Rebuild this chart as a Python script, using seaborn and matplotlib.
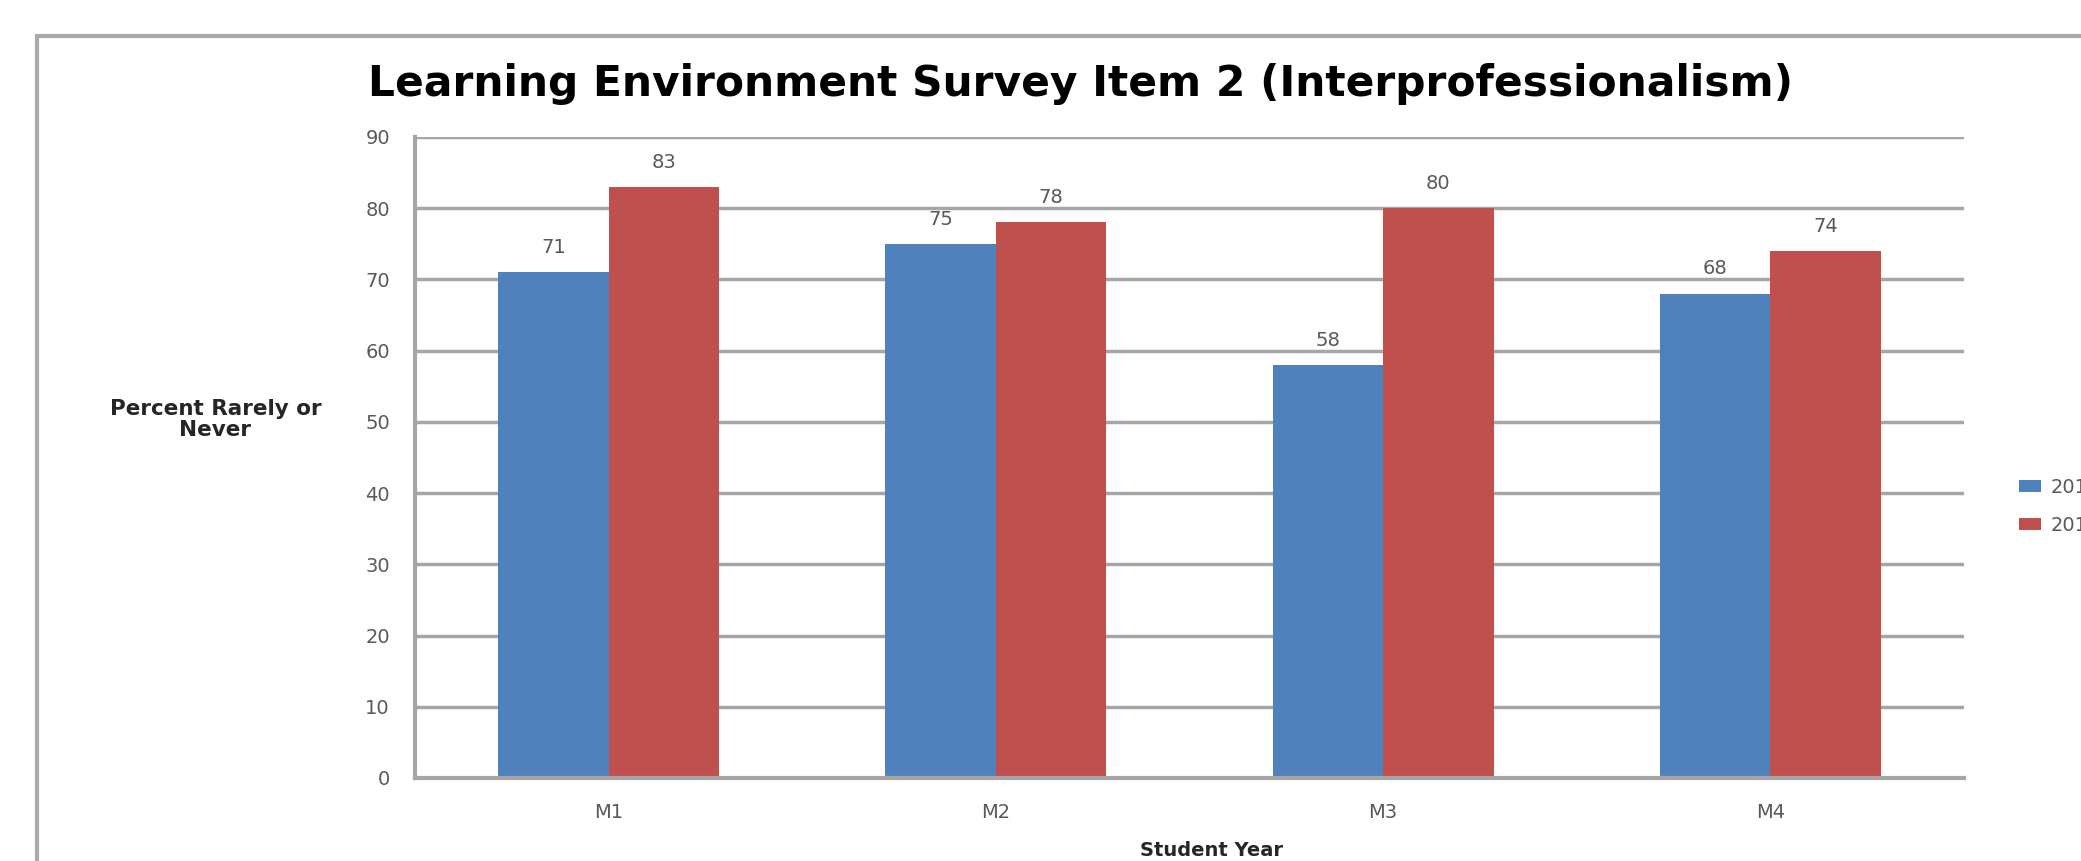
import pandas as pd
import matplotlib.pyplot as plt
import seaborn as sns
from matplotlib.patches import Rectangle, Patch

# Dados do gráfico
student_years = ["M1", "M2", "M3", "M4"]
series_names = ["2010", "2011"]
values_first = [71, 75, 58, 68]
values_second = [83, 78, 80, 74]
y_ticks = [0, 10, 20, 30, 40, 50, 60, 70, 80, 90]

df = pd.DataFrame({
    "Student Year": student_years * 2,
    "Year": [series_names[0]] * 4 + [series_names[1]] * 4,
    "Percent": values_first + values_second,
})

sns.set_style("white")
plt.rcParams['font.family'] = ['DejaVu Sans']

blue = "#4F81BD"
red = "#C0504D"
grey = "#A6A6A6"
tick_col = "#595959"

fig = plt.figure(figsize=(20.81, 8.61), dpi=100)
ax = fig.add_axes([0.1994, 0.0964, 0.7444, 0.7445])

sns.barplot(data=df, x="Student Year", y="Percent", hue="Year",
            palette=[blue, red], width=0.57, ax=ax, legend=False,
            saturation=1, edgecolor="none")

ax.set_xlim(-0.5, 3.5)
ax.set_ylim(0, 90)
ax.set_yticks(y_ticks)
ax.yaxis.grid(True, color=grey, linewidth=2.5)
ax.set_axisbelow(True)

for s in ["top", "right"]:
    ax.spines[s].set_visible(False)
for s in ["left", "bottom"]:
    ax.spines[s].set_color(grey)
    ax.spines[s].set_linewidth(3)

ax.set_xticks([0.5, 1.5, 2.5, 3.5], minor=True)
ax.tick_params(axis="x", which="minor", length=7, width=2.5, color=grey, direction="out")
ax.tick_params(axis="x", which="major", length=0, labelsize=14, labelcolor=tick_col, pad=18)
ax.tick_params(axis="y", length=8, width=2.5, color=grey, direction="out",
               labelsize=14, labelcolor=tick_col, pad=10)

# rótulos de valor
for cont in ax.containers:
    ax.bar_label(cont, padding=11, fontsize=14, color=tick_col)

ax.set_xlabel("Student Year", fontsize=14, fontweight="bold", color="#262626")
ax.xaxis.set_label_coords(0.514, -0.098)
ax.set_ylabel("")
fig.text(0.1035, 0.513, "Percent Rarely or\nNever", ha="center", va="center",
         fontsize=15.5, fontweight="bold", color="#262626", linespacing=1.1)

fig.text(0.519, 0.903, "Learning Environment Survey Item 2 (Interprofessionalism)",
         ha="center", va="center", fontsize=30.5, fontweight="bold", color="black")

# legenda (cortada na margem direita, como no original)
handles = [Patch(facecolor=blue, edgecolor="none"), Patch(facecolor=red, edgecolor="none")]
fig.legend(handles, series_names, loc="center left", bbox_to_anchor=(0.962, 0.412),
           frameon=False, fontsize=14, labelcolor=tick_col, handlelength=1.1,
           handleheight=0.6, handletextpad=0.5, labelspacing=1.0)

# moldura exterior
fig.add_artist(Rectangle((37 / 2081, -0.1), 1.2, 1 - 36 / 861 + 0.1,
                         transform=fig.transFigure, fill=False,
                         edgecolor="#AAAAAA", linewidth=3))

fig.savefig("out.png", dpi=100)
plt.close()
